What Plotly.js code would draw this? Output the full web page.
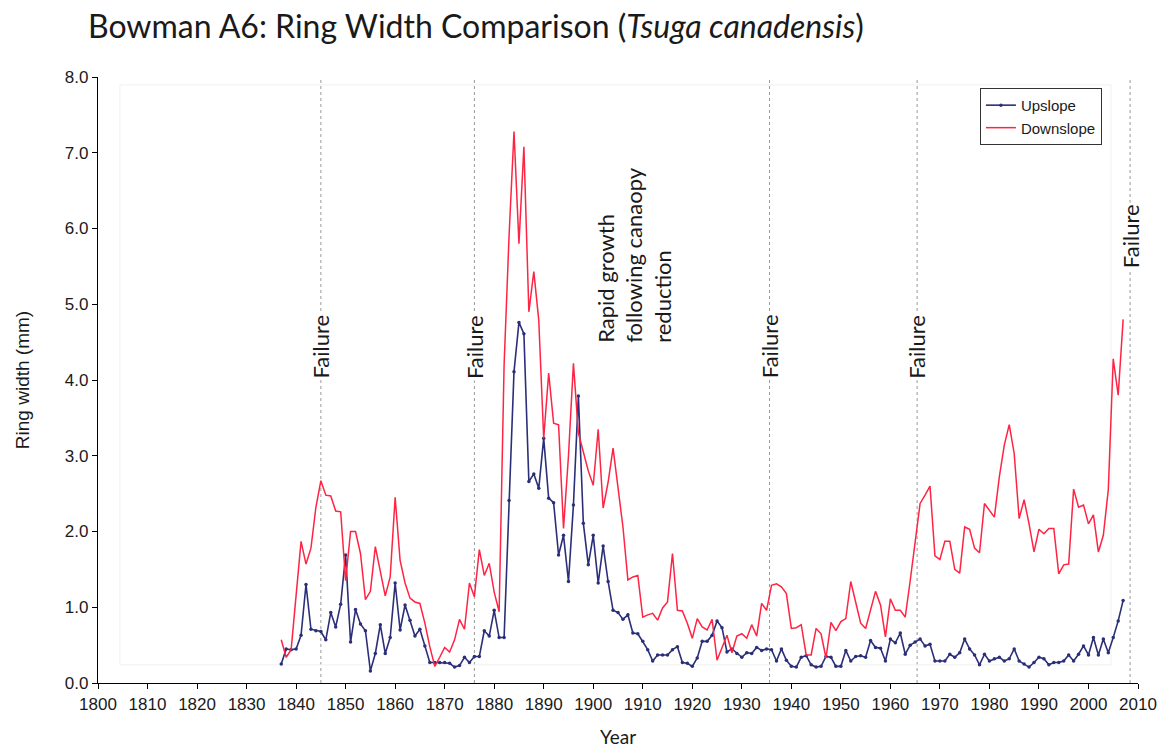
<!DOCTYPE html>
<html>
<head>
<meta charset="utf-8">
<script src="https://cdn.plot.ly/plotly-3.0.1.min.js"></script>
<style>html,body{margin:0;padding:0;background:#fff;}#chart{width:1162px;height:749px;}</style>
</head>
<body>
<div id="chart"></div>
<script>
// Years 1837-2007
const startYear = 1837;
const upslope = [
0.25,0.45,0.44,0.45,0.63,1.30,0.71,0.69,0.68,0.57,0.93,0.74,1.04,
1.69,0.54,0.97,0.78,0.69,0.16,0.39,0.77,0.39,0.60,
1.32,0.70,1.03,0.83,0.62,0.71,0.49,0.27,0.27,0.27,
0.27,0.26,0.21,0.23,0.34,0.27,0.35,0.35,0.69,0.62,
0.96,0.60,0.60,2.41,4.11,4.76,4.61,2.66,2.76,2.57,
3.23,2.44,2.38,1.69,1.95,1.34,2.35,3.79,2.11,1.56,
1.95,1.32,1.81,1.34,0.96,0.93,0.84,0.90,0.66,0.65,
0.55,0.44,0.29,0.37,0.37,0.37,0.44,0.48,0.27,0.26,
0.22,0.33,0.55,0.55,0.63,0.82,0.73,0.41,0.45,0.39,
0.34,0.40,0.39,0.47,0.43,0.45,0.44,0.29,0.45,0.30,
0.22,0.21,0.34,0.36,0.24,0.21,0.22,0.35,0.34,0.22,
0.22,0.43,0.29,0.35,0.36,0.34,0.56,0.47,0.46,0.29,
0.58,0.53,0.66,0.38,0.50,0.54,0.58,0.49,0.51,0.29,
0.29,0.29,0.38,0.34,0.40,0.58,0.45,0.37,0.24,0.38,
0.29,0.32,0.34,0.29,0.32,0.45,0.29,0.25,0.21,0.27,
0.34,0.32,0.24,0.27,0.27,0.29,0.37,0.29,0.38,0.49,
0.37,0.60,0.37,0.58,0.40,0.60,0.82,1.09
];
const downslope = [
0.57,0.34,0.44,1.15,1.87,1.57,1.78,2.32,2.67,2.48,2.47,2.27,2.26,
1.35,2.00,2.00,1.71,1.10,1.21,1.80,1.47,1.15,1.40,
2.45,1.62,1.32,1.12,1.07,1.05,0.79,0.48,0.22,0.34,
0.47,0.41,0.57,0.84,0.71,1.32,1.14,1.76,1.42,1.58,
1.20,0.94,4.20,5.90,7.28,5.80,7.08,4.90,5.43,4.79,
3.23,4.09,3.43,3.41,2.04,3.00,4.22,3.30,3.05,2.80,
2.61,3.35,2.31,2.65,3.10,2.60,2.06,1.36,1.40,1.42,
0.87,0.90,0.92,0.83,0.99,1.07,1.71,0.96,0.95,0.79,
0.59,0.85,0.74,0.70,0.84,0.30,0.47,0.63,0.40,0.62,
0.65,0.59,0.77,0.62,1.05,0.96,1.29,1.31,1.27,1.18,
0.72,0.73,0.77,0.37,0.37,0.72,0.65,0.33,0.80,0.69,
0.81,0.85,1.34,1.07,0.79,0.72,0.95,1.21,1.03,0.61,
1.11,0.96,0.96,0.87,1.35,1.90,2.37,2.48,2.60,1.68,
1.63,1.87,1.87,1.50,1.45,2.06,2.03,1.78,1.72,2.37,
2.28,2.19,2.72,3.14,3.41,3.03,2.17,2.42,2.10,1.73,
2.03,1.97,2.04,2.04,1.44,1.56,1.57,2.56,2.32,2.35,
2.10,2.22,1.73,1.95,2.55,4.28,3.80,4.80
];
const years = upslope.map((_, i) => startYear + i);

const failureYears = [1845, 1876, 1935.6, 1965.4, 2008.4];
const failureLabelY = [4.44, 4.44, 4.44, 4.44, 5.9];
const failureLabel = "Failure";
const rapidNote = "Rapid growth<br>following canaopy<br>reduction";
const rapidNoteX = 1908.2;
const rapidNoteY = 5.65;

const xTicks = [];
for (let y = 1800; y <= 2010; y += 10) xTicks.push(y);
const yTicks = [0,1,2,3,4,5,6,7,8];

const traces = [
  {x: years, y: upslope, name: "Upslope", type: "scatter", mode: "lines+markers",
   line: {color: "#2b2f78", width: 1.6}, marker: {color: "#2b2f78", size: 3.5}},
  {x: years, y: downslope, name: "Downslope", type: "scatter", mode: "lines",
   line: {color: "#ff2444", width: 1.5}}
];

const shapes = failureYears.map(fy => ({
  type: "line", xref: "x", yref: "paper", x0: fy, x1: fy, y0: 0, y1: 1,
  line: {color: "#999", width: 1, dash: "dot"}, layer: "below"
}));
shapes.push({type: "rect", xref: "paper", yref: "paper", x0: 0.021, x1: 0.974, y0: 0.03, y1: 0.987,
  line: {color: "#f0f0f0", width: 1}, layer: "below"});

const annotations = failureYears.map((fy, i) => ({
  x: fy, y: failureLabelY[i], xref: "x", yref: "y", text: failureLabel, showarrow: false,
  textangle: -90, bgcolor: "#ffffff",
  font: {family: "Lato, 'Open Sans', sans-serif", size: 22, color: "#1a1a1a"}
}));
annotations.push({
  x: rapidNoteX, y: rapidNoteY, xref: "x", yref: "y", text: rapidNote, showarrow: false,
  textangle: -90, align: "left",
  font: {family: "Lato, 'Open Sans', sans-serif", size: 22, color: "#1a1a1a"}
});

const layout = {
  width: 1162, height: 749,
  margin: {l: 98, r: 24, t: 77, b: 66},
  paper_bgcolor: "#ffffff", plot_bgcolor: "rgba(0,0,0,0)",
  title: {text: "Bowman A6: Ring Width Comparison (<i>Tsuga canadensis</i>)",
    x: 0, xref: "paper", xanchor: "left", y: 0.964, yref: "container", yanchor: "middle",
    pad: {l: -10},
    font: {family: "Lato, 'Open Sans', sans-serif", size: 32, color: "#1a1a1a"}},
  xaxis: {range: [1800, 2010], tickvals: xTicks, ticks: "outside", ticklen: 5, tickcolor: "#000",
    showline: true, linecolor: "#000", linewidth: 1.2, showgrid: false, zeroline: false,
    tickfont: {family: "'Liberation Sans', Arial, sans-serif", size: 17, color: "#1a1a1a"},
    title: {text: "Year", standoff: 18, font: {family: "Lato, 'Open Sans', sans-serif", size: 19, color: "#1a1a1a"}}},
  yaxis: {range: [0, 8], tickvals: yTicks, tickformat: ".1f", ticks: "outside", ticklen: 5, tickcolor: "#000",
    showline: true, linecolor: "#000", linewidth: 1.2, showgrid: false, zeroline: false,
    tickfont: {family: "'Liberation Sans', Arial, sans-serif", size: 17, color: "#1a1a1a"},
    title: {text: "Ring width (mm)", standoff: 30, font: {family: "'Liberation Sans', Arial, sans-serif", size: 19, color: "#1a1a1a"}}},
  legend: {x: 0.848, y: 0.982, xanchor: "left", yanchor: "top", bgcolor: "#ffffff",
    bordercolor: "#333", borderwidth: 1, tracegroupgap: 4,
    font: {family: "'Liberation Sans', Arial, sans-serif", size: 15, color: "#1a1a1a"}},
  shapes: shapes,
  annotations: annotations,
  showlegend: true
};

Plotly.newPlot("chart", traces, layout, {displayModeBar: false, staticPlot: true});
</script>
</body>
</html>
